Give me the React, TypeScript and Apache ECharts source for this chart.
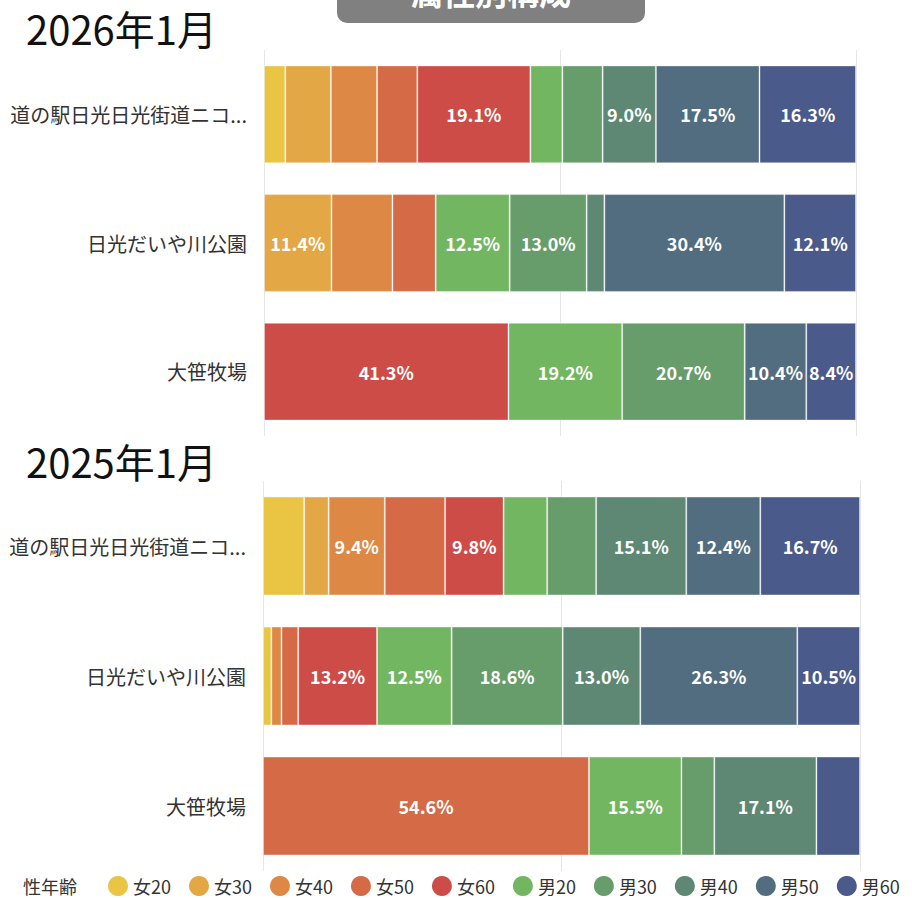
import React, { useEffect, useRef } from 'react';
import * as echarts from 'echarts';

const categories = ['道の駅日光日光街道ニコニコ本陣', '日光だいや川公園', '大笹牧場'];
const groups = ['女20', '女30', '女40', '女50', '女60', '男20', '男30', '男40', '男50', '男60'];
const groupColors = ['#EAC443', '#E3A845', '#DD8945', '#D56A46', '#CD4C47', '#72B662', '#679C6B', '#5E8774', '#526D80', '#4A5A8A'];
const periods = ['2026年1月', '2025年1月'];

// shares (%) per category, in the order of `groups`
const jan2026Michinoeki = [3.6, 7.7, 7.8, 6.8, 19.1, 5.4, 6.8, 9.0, 17.5, 16.3];
const jan2026Daiya = [0, 11.4, 10.3, 7.3, 0, 12.5, 13.0, 3.0, 30.4, 12.1];
const jan2026Oosasa = [0, 0, 0, 0, 41.3, 19.2, 20.7, 0, 10.4, 8.4];
const jan2025Michinoeki = [6.9, 4.1, 9.4, 10.1, 9.8, 7.3, 8.2, 15.1, 12.4, 16.7];
const jan2025Daiya = [1.4, 0, 1.7, 2.8, 13.2, 12.5, 18.6, 13.0, 26.3, 10.5];
const jan2025Oosasa = [0, 0, 0, 54.6, 0, 15.5, 5.5, 17.1, 0, 7.3];

const labelThreshold = 8.3;
// labels not shown in the original: [periodIndex, categoryIndex, groupIndex]
const hiddenLabels = [
  [0, 1, 2],
  [1, 0, 3],
];

const FONT = '"Noto Sans CJK JP", "Noto Sans", sans-serif';

export default function App() {
  const ref = useRef<HTMLDivElement>(null);

  useEffect(() => {
    if (!ref.current) return;
    const chart = echarts.init(ref.current, undefined, { renderer: 'svg' });
    const rowsByPeriod = [
      [jan2026Michinoeki, jan2026Daiya, jan2026Oosasa],
      [jan2025Michinoeki, jan2025Daiya, jan2025Oosasa],
    ];

    const series: any[] = [];
    rowsByPeriod.forEach((rows, p) => {
      groups.forEach((g, gi) => {
        series.push({
          type: 'bar',
          name: g,
          stack: 'p' + p,
          xAxisIndex: p,
          yAxisIndex: p,
          barWidth: '76%',
          itemStyle: { color: groupColors[gi], borderColor: 'rgba(255,255,255,0.35)', borderWidth: 1 },
          label: {
            show: true,
            position: 'inside',
            color: '#fff',
            fontSize: 18,
            fontWeight: 'bold',
            fontFamily: FONT,
            formatter: (params: any) => {
              const v = params.value;
              if (typeof v !== 'number' || v < labelThreshold) return '';
              const hidden = hiddenLabels.some(
                (h) => h[0] === p && h[1] === params.dataIndex && h[2] === gi
              );
              return hidden ? '' : v.toFixed(1) + '%';
            },
          },
          data: rows.map((r) => (r[gi] === 0 ? '-' : r[gi])),
        });
      });
    });

    const grids = [
      { left: 264, width: 592, top: 50, height: 386 },
      { left: 263, width: 597, top: 481, height: 390 },
    ];

    const option: any = {
      animation: false,
      textStyle: { fontFamily: FONT },
      grid: grids,
      xAxis: grids.map((_, i) => ({
        type: 'value',
        gridIndex: i,
        min: 0,
        max: 100,
        interval: 50,
        axisLabel: { show: false },
        axisLine: { show: false },
        axisTick: { show: false },
        splitLine: { show: true, lineStyle: { color: '#e6e6e6', width: 1 } },
      })),
      yAxis: grids.map((_, i) => ({
        type: 'category',
        gridIndex: i,
        data: categories,
        inverse: true,
        axisLine: { show: false },
        axisTick: { show: false },
        axisLabel: {
          fontSize: 20,
          color: '#333',
          margin: 17,
          fontFamily: FONT,
          formatter: (name: string) => (name.length > 11 ? name.slice(0, 11) + '...' : name),
        },
      })),
      legend: {
        data: groups,
        icon: 'circle',
        itemWidth: 20,
        itemHeight: 20,
        itemGap: 18,
        left: 108,
        top: 876,
        padding: 0,
        itemStyle: { borderWidth: 0 },
        textStyle: { fontSize: 18, color: '#333', fontFamily: FONT, lineHeight: 20 },
      },
      graphic: [
        {
          type: 'rect',
          shape: { x: 337, y: -20, width: 308, height: 43, r: 10 },
          style: { fill: '#808080' },
        },
        {
          type: 'text',
          x: 491,
          y: -9,
          style: {
            text: '属性別構成',
            fill: '#fff',
            fontSize: 32,
            fontWeight: 'bold',
            fontFamily: FONT,
            align: 'center',
            verticalAlign: 'middle',
          },
        },
        {
          type: 'text',
          x: 26,
          y: 28,
          style: { text: periods[0], fill: '#111', fontSize: 40, fontFamily: FONT, verticalAlign: 'middle' },
        },
        {
          type: 'text',
          x: 26,
          y: 461,
          style: { text: periods[1], fill: '#111', fontSize: 40, fontFamily: FONT, verticalAlign: 'middle' },
        },
        {
          type: 'text',
          x: 23,
          y: 886,
          style: { text: '性年齢', fill: '#333', fontSize: 18, fontFamily: FONT, verticalAlign: 'middle' },
        },
      ],
      series,
    };
    chart.setOption(option);
    return () => chart.dispose();
  }, []);

  return (
    <div
      ref={ref}
      style={{ position: 'fixed', left: 0, top: 0, width: 912, height: 898, background: '#fff' }}
    />
  );
}
